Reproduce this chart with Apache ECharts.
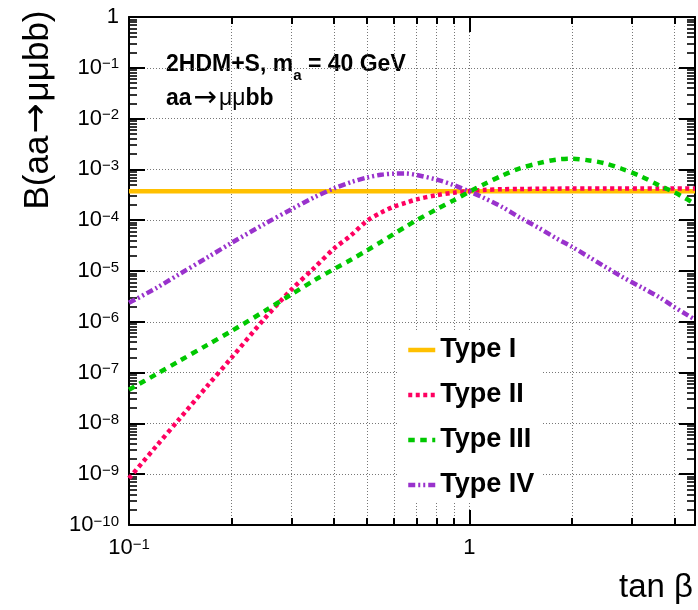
<!DOCTYPE html>
<html><head><meta charset="utf-8">
<script src="https://cdn.jsdelivr.net/npm/echarts@6/dist/echarts.min.js"></script>
<style>html,body{margin:0;padding:0;background:#fff}#c{width:698px;height:610px}</style>
</head><body><div id="c"></div>
<script>
// ---- data ----
const seriesNames = ['Type I', 'Type II', 'Type III', 'Type IV'];
const tanBetaI = [0.1, 1, 4.6];
const typeI = [3.7e-4, 3.7e-4, 3.7e-4];
const tanBeta = [0.1, 0.12, 0.14, 0.17, 0.2, 0.25, 0.3, 0.35, 0.4, 0.45, 0.5, 0.55, 0.6, 0.65, 0.7, 0.8, 0.9, 1.0, 1.1, 1.25, 1.4, 1.6, 1.8, 2.0, 2.25, 2.5, 2.8, 3.2, 3.6, 4.0, 4.3, 4.6];
const typeII = [8.3e-10, 3.5e-9, 1.18e-8, 5.5e-8, 1.95e-7, 1.15e-6, 4.3e-6, 1.15e-5, 2.75e-5, 5.1e-5, 9.7e-5, 1.41e-4, 1.85e-4, 2.2e-4, 2.57e-4, 3.1e-4, 3.48e-4, 3.75e-4, 3.94e-4, 4.07e-4, 4.12e-4, 4.15e-4, 4.18e-4, 4.2e-4, 4.2e-4, 4.2e-4, 4.2e-4, 4.2e-4, 4.2e-4, 4.2e-4, 4.2e-4, 4.2e-4];
const typeIII = [4.6e-8, 9.2e-8, 1.67e-7, 3.52e-7, 6.56e-7, 1.62e-6, 3.47e-6, 6.55e-6, 1.09e-5, 1.68e-5, 2.54e-5, 3.74e-5, 5.37e-5, 7.45e-5, 1.0e-4, 1.63e-4, 2.47e-4, 3.63e-4, 5.06e-4, 7.59e-4, 1.04e-3, 1.33e-3, 1.56e-3, 1.63e-3, 1.50e-3, 1.32e-3, 1.03e-3, 7.24e-4, 4.89e-4, 3.53e-4, 2.72e-4, 2.09e-4];
const typeIV = [2.36e-6, 4.58e-6, 8.53e-6, 1.85e-5, 3.57e-5, 8.43e-5, 1.64e-4, 2.82e-4, 4.21e-4, 5.65e-4, 6.92e-4, 7.85e-4, 8.25e-4, 8.3e-4, 7.76e-4, 6.32e-4, 4.9e-4, 3.68e-4, 2.77e-4, 1.81e-4, 1.15e-4, 7.03e-5, 4.4e-5, 3.0e-5, 1.87e-5, 1.22e-5, 7.76e-6, 4.79e-6, 3.09e-6, 1.95e-6, 1.45e-6, 1.1e-6];
const xRange = [0.1, 4.6];
const yRange = [1e-10, 1];
const yTitle = ['B(aa', '\u2192', '\u03bc\u03bcbb)'];
const xTitle = 'tan \u03b2';
const noteLine1 = ['2HDM+S, m', 'a', ' = 40 GeV'];
const noteLine2 = ['aa', '\u2192', '\u03bc\u03bc', 'bb'];

// ---- rendering ----
const FONT = '"Liberation Sans", Arial, Helvetica, sans-serif';
const ARROWFONT = '"DejaVu Sans", sans-serif';
function zip(xs, ys) { return xs.map((x, i) => [x, ys[i]]); }
function powLabel(v) {
  const e = Math.round(Math.log10(v));
  if (e === 0) return '{b|1}';
  return '{b|10}{s|' + (e < 0 ? '\u2212' : '') + Math.abs(e) + '}';
}
const richLbl = {
  b: { fontSize: 22, lineHeight: 22, verticalAlign: 'bottom', fontFamily: FONT, color: '#000' },
  s: { fontSize: 15, lineHeight: 15, verticalAlign: 'top', fontFamily: FONT, color: '#000' }
};
const gridLine = { color: '#777', width: 1, type: [1, 2] };
const axisLineSt = { color: '#000', width: 2 };

function xAx(pos, labels) {
  return {
    type: 'log', logBase: 10, min: xRange[0], max: xRange[1], position: pos,
    axisLine: { show: true, onZero: false, lineStyle: axisLineSt },
    axisTick: { show: true, inside: true, length: 15, lineStyle: { color: '#000', width: 2 } },
    minorTick: { show: true, splitNumber: 9, length: 7, lineStyle: { color: '#000', width: 2 } },
    axisLabel: { show: labels, formatter: powLabel, margin: 12, rich: richLbl, showMinLabel: true, showMaxLabel: false },
    splitLine: { show: labels, lineStyle: gridLine },
    minorSplitLine: { show: labels, lineStyle: gridLine }
  };
}
function yAx(pos, labels) {
  return {
    type: 'log', logBase: 10, min: yRange[0], max: yRange[1], interval: 1, position: pos,
    axisLine: { show: true, onZero: false, lineStyle: axisLineSt },
    axisTick: { show: true, inside: true, length: 16, lineStyle: { color: '#000', width: 2 } },
    minorTick: { show: true, splitNumber: 9, length: 8, lineStyle: { color: '#000', width: 1.6 } },
    axisLabel: { show: labels, formatter: powLabel, margin: 10, rich: richLbl, showMinLabel: true, showMaxLabel: true },
    splitLine: { show: labels, lineStyle: gridLine },
    minorSplitLine: { show: false }
  };
}
function lineSeries(name, data, color, dash, z) {
  return {
    name: name, type: 'line', xAxisIndex: 0, yAxisIndex: 0, data: data,
    symbol: 'none', smooth: 0.3, clip: true, z: z,
    lineStyle: { color: color, width: 4.5, type: dash, cap: 'butt' },
    itemStyle: { color: color }
  };
}

const chart = echarts.init(document.getElementById('c'), null, { renderer: 'canvas' });
chart.setOption({
  animation: false,
  backgroundColor: '#fff',
  grid: { left: 129, right: 3, top: 17, bottom: 85, containLabel: false },
  xAxis: [xAx('bottom', true), xAx('top', false)],
  yAxis: [yAx('left', true), yAx('right', false)],
  legend: {
    orient: 'vertical', left: 398, top: 332, padding: [4, 8, 4, 8],
    backgroundColor: '#fff', selectedMode: false,
    itemWidth: 27, itemHeight: 14, itemGap: 17,
    itemStyle: { opacity: 0 },
    lineStyle: { width: 4.5 },
    textStyle: { fontSize: 27, fontWeight: 'bold', fontFamily: FONT, color: '#000', lineHeight: 28 },
    data: seriesNames
  },
  series: [
    lineSeries(seriesNames[0], zip(tanBetaI, typeI), '#ffc000', 'solid', 2),
    lineSeries(seriesNames[1], zip(tanBeta, typeII), '#ff0060', [4, 3.5], 3),
    lineSeries(seriesNames[2], zip(tanBeta, typeIII), '#00c800', [6.5, 5.5], 4),
    lineSeries(seriesNames[3], zip(tanBeta, typeIV), '#9932cc', [7, 3, 2, 3, 2, 3], 5)
  ],
  graphic: [
    { type: 'text', x: 38, y: 110, rotation: Math.PI / 2,
      style: {
        text: '{t|' + yTitle[0] + '}{a|' + yTitle[1] + '}{t|' + yTitle[2] + '}',
        textAlign: 'center', textVerticalAlign: 'middle', align: 'center', verticalAlign: 'middle',
        rich: {
          t: { fontSize: 35, fontFamily: FONT, color: '#000', fill: '#000', lineHeight: 38 },
          a: { fontSize: 36, fontFamily: ARROWFONT, color: '#000', fill: '#000', lineHeight: 38, padding: [0, 2, 0, 2] }
        }
      } },
    { type: 'text', x: 693, y: 588,
      style: { text: xTitle, font: '33px ' + FONT, fill: '#000', textAlign: 'right', textVerticalAlign: 'middle', align: 'right', verticalAlign: 'middle' } },
    { type: 'text', x: 166, y: 53,
      style: {
        text: '{b|' + noteLine1[0] + '}{sub|' + noteLine1[1] + '}{b|' + noteLine1[2] + '}',
        textVerticalAlign: 'top', verticalAlign: 'top',
        rich: {
          b: { fontSize: 23, fontWeight: 'bold', fontFamily: FONT, fill: '#000', color: '#000', lineHeight: 30, verticalAlign: 'top' },
          sub: { fontSize: 15, fontWeight: 'bold', fontFamily: FONT, fill: '#000', color: '#000', lineHeight: 14, verticalAlign: 'bottom' }
        }
      } },
    { type: 'text', x: 166, y: 99,
      style: {
        text: '{b|' + noteLine2[0] + '}{a|' + noteLine2[1] + '}{r|' + noteLine2[2] + '}{b|' + noteLine2[3] + '}',
        textVerticalAlign: 'middle', verticalAlign: 'middle',
        rich: {
          b: { fontSize: 23, fontWeight: 'bold', fontFamily: FONT, fill: '#000', color: '#000', lineHeight: 26 },
          a: { fontSize: 28, fontFamily: ARROWFONT, fill: '#000', color: '#000', lineHeight: 26, padding: [0, 2, 0, 2] },
          r: { fontSize: 23, fontFamily: FONT, fill: '#000', color: '#000', lineHeight: 26 }
        }
      } }
  ]
});
</script>
</body></html>
